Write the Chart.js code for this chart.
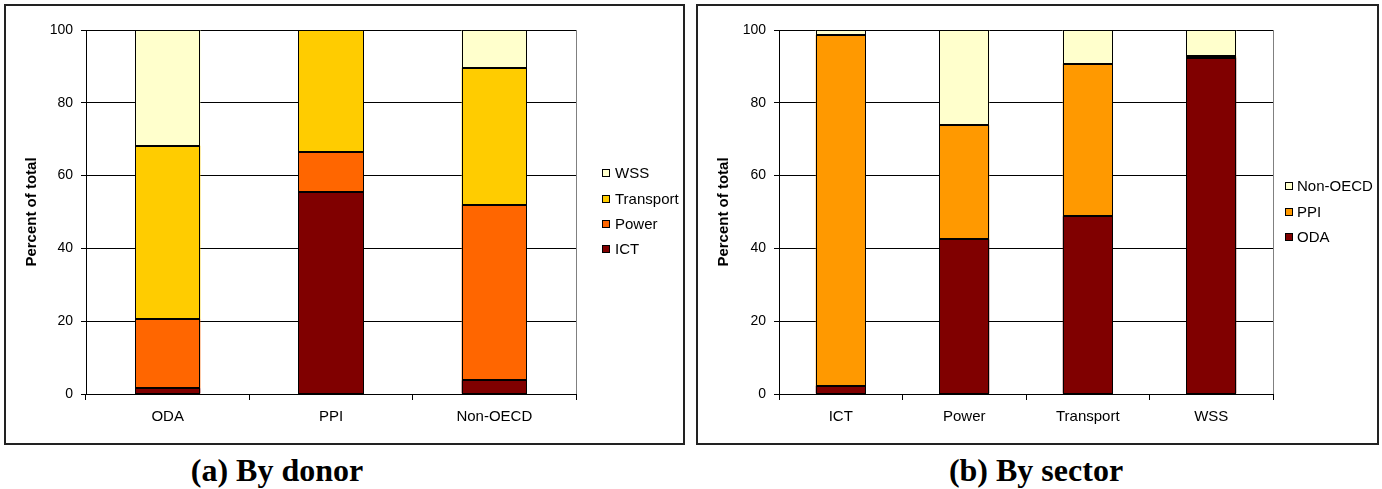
<!DOCTYPE html>
<html>
<head>
<meta charset="utf-8">
<script src="https://cdn.jsdelivr.net/npm/chart.js@4.4.0/dist/chart.umd.min.js"></script>
<style>
  body { margin: 0; background: #fff; width: 1382px; height: 489px; position: relative; overflow: hidden;
         font-family: "Liberation Sans", Arial, sans-serif; }
  .panel { position: absolute; border: 2px solid #222; box-sizing: border-box; }
  canvas { position: absolute; }
  .lbox { position: absolute; width: 8px; height: 8px; border: 1px solid #000; box-sizing: border-box; }
  .ltxt { position: absolute; font-size: 15px; line-height: 18px; white-space: nowrap; color: #000; }
  .caption { position: absolute; font-family: "Liberation Serif", "Times New Roman", serif; font-weight: bold;
             font-size: 32px; line-height: 32px; white-space: nowrap; transform: translateX(-50%); }
</style>
</head>
<body>
<div class="panel" style="left:4px; top:4px; width:681px; height:441px;"></div>
<div class="panel" style="left:696px; top:4px; width:683px; height:441px;"></div>
<canvas id="byDonor" width="675" height="435" style="left:7px; top:7px;"></canvas>
<canvas id="bySector" width="677" height="435" style="left:699px; top:7px;"></canvas>
<div id="legendA"></div>
<div id="legendB"></div>
<div class="caption" style="left:277px; top:454px;">(a) By donor</div>
<div class="caption" style="left:1036px; top:454px;">(b) By sector</div>

<script>
const donors = ['ODA', 'PPI', 'Non-OECD'];
const sectors = ['ICT', 'Power', 'Transport', 'WSS'];

// (a) share of each sector in a donor's total, percent
const ictByDonor = [1.6, 55.4, 3.8];
const powerByDonor = [19.0, 11.2, 48.1];
const transportByDonor = [47.6, 33.4, 37.7];
const wssByDonor = [31.8, 0, 10.4];

// (b) share of each donor in a sector's total, percent
const odaBySector = [2.3, 42.5, 48.8, 92.4];
const ppiBySector = [96.3, 31.3, 41.9, 0.4];
const nonOecdBySector = [1.4, 26.2, 9.3, 7.2];

const yMin = 0, yMax = 100, yStep = 20;

const sectorColors = ['#800000', '#FF6600', '#FFCC00', '#FFFFCC'];
const donorColors = ['#800000', '#FF9900', '#FFFFCC'];

// thin grey edge on the right of the plot area, like the Excel original
const plotEdge = {
    id: 'plotEdge',
    beforeDatasetsDraw(chart) {
        const {ctx, chartArea} = chart;
        ctx.save();
        ctx.strokeStyle = '#808080';
        ctx.lineWidth = 1;
        ctx.beginPath();
        ctx.moveTo(Math.round(chartArea.right) + 0.5, chartArea.top);
        ctx.lineTo(Math.round(chartArea.right) + 0.5, chartArea.bottom);
        ctx.stroke();
        ctx.restore();
    }
};

// crisp 1px black outline round every bar segment (Chart.js borders come out blurry grey)
const crispOutline = {
    id: 'crispOutline',
    afterDatasetsDraw(chart) {
        const ctx = chart.ctx;
        ctx.save();
        ctx.strokeStyle = '#000';
        ctx.lineWidth = 1;
        chart.data.datasets.forEach((ds, i) => {
            chart.getDatasetMeta(i).data.forEach(bar => {
                const p = bar.getProps(['x', 'y', 'base', 'width'], true);
                const l = Math.round(p.x - p.width / 2) + 0.5;
                const r = Math.round(p.x + p.width / 2) - 0.5;
                const t = Math.round(Math.min(p.y, p.base)) + 0.5;
                const b = Math.round(Math.max(p.y, p.base)) - 0.5;
                ctx.strokeRect(l, t, r - l, Math.max(b - t, 0));
            });
        });
        ctx.restore();
    }
};

function makeOptions(yWidth, padRight) {
    return {
        responsive: false,
        animation: false,
        devicePixelRatio: 1,
        layout: { padding: { top: 23, right: padRight, bottom: 0, left: 0 } },
        plugins: { legend: { display: false }, tooltip: { enabled: false } },
        scales: {
            x: {
                stacked: true,
                afterFit(scale) { scale.height = 48; },
                border: { color: '#000', width: 1 },
                grid: { display: true, drawOnChartArea: false, offset: true, tickLength: 6, tickColor: '#000' },
                ticks: { color: '#000', padding: 8, font: { family: 'Liberation Sans', size: 15 } }
            },
            y: {
                stacked: true,
                min: yMin,
                max: yMax,
                afterFit(scale) { scale.width = yWidth; },
                border: { color: '#000', width: 1 },
                grid: { color: '#000', tickLength: 5, tickColor: '#000' },
                ticks: { stepSize: yStep, color: '#000', padding: 8, font: { family: 'Liberation Sans', size: 14 } },
                title: {
                    display: true,
                    text: 'Percent of total',
                    color: '#000',
                    padding: { top: 16, bottom: 0 },
                    font: { family: 'Liberation Sans', size: 15, weight: 'bold' }
                }
            }
        }
    };
}

function bars(label, data, color, barPct) {
    return {
        label: label,
        data: data,
        backgroundColor: color,
        borderWidth: 0,
        barPercentage: barPct,
        categoryPercentage: 1
    };
}

new Chart(document.getElementById('byDonor'), {
    type: 'bar',
    data: {
        labels: donors,
        datasets: [
            bars('ICT', ictByDonor, sectorColors[0], 0.4),
            bars('Power', powerByDonor, sectorColors[1], 0.4),
            bars('Transport', transportByDonor, sectorColors[2], 0.4),
            bars('WSS', wssByDonor, sectorColors[3], 0.4)
        ]
    },
    options: makeOptions(79, 106),
    plugins: [plotEdge, crispOutline]
});

new Chart(document.getElementById('bySector'), {
    type: 'bar',
    data: {
        labels: sectors,
        datasets: [
            bars('ODA', odaBySector, donorColors[0], 0.405),
            bars('PPI', ppiBySector, donorColors[1], 0.405),
            bars('Non-OECD', nonOecdBySector, donorColors[2], 0.405)
        ]
    },
    options: makeOptions(80, 103),
    plugins: [plotEdge, crispOutline]
});

// legends, top item = last series
function legend(el, names, colors, boxX, textX, rows) {
    const box = document.getElementById(el);
    names.slice().reverse().forEach((name, i) => {
        const c = colors[names.length - 1 - i];
        const y = rows[i];
        const b = document.createElement('div');
        b.className = 'lbox';
        b.style.left = boxX + 'px';
        b.style.top = (y - 4) + 'px';
        b.style.background = c;
        const t = document.createElement('div');
        t.className = 'ltxt';
        t.style.left = textX + 'px';
        t.style.top = (y - 9) + 'px';
        t.textContent = name;
        box.appendChild(b);
        box.appendChild(t);
    });
}
legend('legendA', sectors, sectorColors, 602, 615, [173, 199, 224, 249]);
legend('legendB', donors, donorColors, 1285, 1297, [186, 212, 237]);
</script>
</body>
</html>
